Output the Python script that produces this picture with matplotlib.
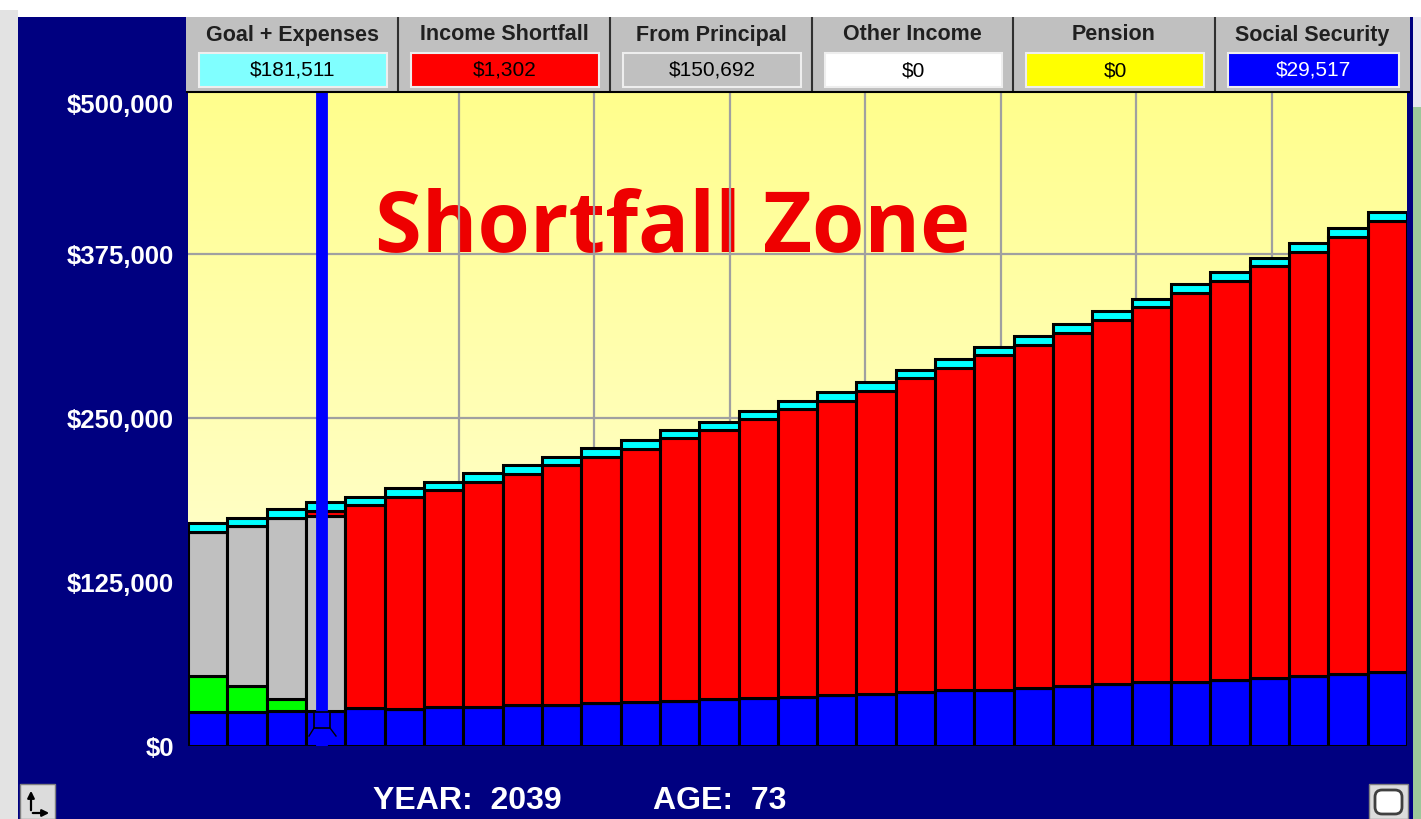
import numpy as np
import matplotlib.pyplot as plt
from matplotlib.patches import Rectangle, FancyBboxPatch
from matplotlib.transforms import ScaledTranslation

W, H = 1421, 819

# one bar per year, current year marked by the blue slider
years = list(range(2036, 2067))
social_security = [25700, 25700, 26900, 26900, 28700, 28200, 29700, 29700, 31200, 31200,
                   32800, 33300, 34500, 36000, 36300, 37600, 39100, 39400, 40900, 42400,
                   42700, 44000, 45500, 47200, 48500, 48800, 50300, 51800, 53300, 55100, 56600]
wages = [27900, 19800, 8900] + [0] * 28
principal = [109700, 122400, 138200, 148600] + [0] * 27
shortfall = [0, 0, 0, 3800, 154900, 161800, 165400, 171500, 176300, 182700,
             187400, 193200, 200000, 204800, 212600, 219000, 223800, 231300, 239300, 245900,
             255200, 261800, 269400, 277400, 285800, 296500, 304100, 313700, 323300, 333100, 343500]
expenses = [6400, 6100, 6600, 6400, 6300, 6400, 6300, 6600, 6400, 6600,
            6600, 6400, 6300, 6300, 6300, 6600, 6600, 6600, 6600, 6400,
            6300, 6400, 6600, 6600, 6300, 6600, 6600, 6700, 6600, 6600, 6900]

header_titles = ['Goal + Expenses', 'Income Shortfall', 'From Principal',
                 'Other Income', 'Pension', 'Social Security']
header_values = ['$181,511', '$1,302', '$150,692', '$0', '$0', '$29,517']
header_colors = ['#80ffff', '#ff0000', '#c0c0c0', '#ffffff', '#ffff00', '#0000ff']
header_text_colors = ['black', 'black', 'black', 'black', 'black', 'white']
y_ticks = [0, 125000, 250000, 375000, 500000]
current_year = 2039
current_age = 73

NAVY = '#000080'
UI_FONT = 'Liberation Sans'

fig = plt.figure(figsize=(W / 100, H / 100), dpi=100, facecolor='white')

# window background, pixel coordinates
bg = fig.add_axes([0, 0, 1, 1])
bg.set_xlim(0, W)
bg.set_ylim(H, 0)
bg.axis('off')
bg.add_patch(Rectangle((0, 10), 18, H, fc='#e3e3e3', ec='none'))
bg.add_patch(Rectangle((18, 17), 1395, H, fc=NAVY, ec='none'))
bg.add_patch(Rectangle((1413, 17), 8, 90, fc='#e8e8f0', ec='none'))
bg.add_patch(Rectangle((1413, 107), 8, H, fc='#9cc89a', ec='none'))

# chart
ax = fig.add_axes([188 / W, (H - 746) / H, 1219 / W, 656 / H])
x = np.arange(len(years))

grad = np.linspace(0, 1, 256)[:, None]
top_col = np.array([1.0, 1.0, 0.55])
bot_col = np.array([1.0, 0.995, 0.88])
img = (top_col * (1 - grad) + bot_col * grad)[:, None, :]
ax.imshow(img, extent=[-0.5, len(years) - 0.5, 0, 500000], aspect='auto',
          origin='upper', zorder=0)

bottom = np.zeros(len(years))
for vals, col in [(social_security, '#0000ff'), (wages, '#00ff00'),
                  (principal, '#c0c0c0'), (shortfall, '#ff0000'),
                  (expenses, '#00ffff')]:
    ax.bar(x, vals, width=1.0, bottom=bottom, color=col, edgecolor='black',
           linewidth=2.2, zorder=2)
    bottom += np.array(vals)

ax.set_xlim(-0.5, len(years) - 0.5)
ax.set_ylim(0, 500000)
ax.set_xticks(-0.5 + np.arange(1, 9) * len(years) / 9)
ax.set_xticklabels([])
ax.set_yticks(y_ticks)
ax.set_yticklabels([f'${v:,}' for v in y_ticks], color='white', fontsize=18.5,
                   fontweight='bold', family=UI_FONT)
ax.tick_params(axis='x', length=0)
ax.tick_params(axis='y', length=0, pad=10)
ax.grid(True, color='#a0a0a0', linewidth=1.6)
ax.set_axisbelow(True)
for s in ax.spines.values():
    s.set_visible(False)

# top label sits a bit lower, under the header
top_lbl = ax.yaxis.get_major_ticks()[-1].label1
top_lbl.set_transform(top_lbl.get_transform() + ScaledTranslation(0, -10 / 72, fig.dpi_scale_trans))

ax.text(673 / W, 1 - 252 / H, 'Shortfall Zone', transform=fig.transFigure,
        ha='center', va='baseline', fontsize=61, fontweight='bold',
        family='Open Sans', color='#ee0000', zorder=0.3)

# year slider
cur = years.index(current_year) - 0.08
ax.axvline(cur, color='#0000ff', linewidth=8.5, zorder=4, solid_capstyle='butt')

# header and other window bits on top
top = fig.add_axes([0, 0, 1, 1], zorder=10)
top.set_xlim(0, W)
top.set_ylim(H, 0)
top.axis('off')
top.patch.set_alpha(0)

edges = [186, 398, 610, 812, 1013, 1215, 1410]
top.add_patch(Rectangle((186, 17), 1224, 75, fc='#c0c0c0', ec='none'))
for i, title in enumerate(header_titles):
    l, r = edges[i], edges[i + 1]
    top.text((l + r) / 2, 35, title, ha='center', va='center', fontsize=15.5,
             fontweight='bold', family=UI_FONT, color='#202020')
    top.add_patch(Rectangle((l + 13, 53), r - l - 24, 34, fc=header_colors[i],
                            ec='#eeeeee', lw=1.5))
    top.text((l + r) / 2 + 1, 70.5, header_values[i], ha='center', va='center',
             fontsize=15, family=UI_FONT, color=header_text_colors[i])
top.vlines(edges[1:-1], 17, 92, color='#303030', lw=1.5)
top.hlines(92, 186, 1410, color='black', lw=1.5)

top.add_patch(Rectangle((314, 712), 16, 16, fc='#0000ff', ec='black', lw=1.2))
top.plot([309, 314], [736, 728], color='black', lw=1)
top.plot([330, 336], [728, 736], color='black', lw=1)

top.text(467, 801, f'YEAR:  {current_year}', ha='center', va='center', fontsize=23,
         fontweight='bold', family=UI_FONT, color='white')
top.text(720, 801, f'AGE:  {current_age}', ha='center', va='center', fontsize=23,
         fontweight='bold', family=UI_FONT, color='white')

# little buttons in the corners
top.add_patch(Rectangle((20, 784), 35, 35, fc='#dcdcdc', ec='#808080', lw=1))
top.annotate('', xy=(31, 788), xytext=(31, 813),
             arrowprops=dict(arrowstyle='-|>', color='black', lw=1.6, mutation_scale=10))
top.annotate('', xy=(52, 813), xytext=(30, 813),
             arrowprops=dict(arrowstyle='-|>', color='black', lw=1.6, mutation_scale=10))
top.add_patch(Rectangle((1369, 784), 39, 35, fc='#dcdcdc', ec='#808080', lw=1))
top.add_patch(FancyBboxPatch((1375, 790), 27, 24, boxstyle='round,pad=0,rounding_size=7',
                             fc='white', ec='#404040', lw=2))

plt.savefig('out.png', dpi=100)
